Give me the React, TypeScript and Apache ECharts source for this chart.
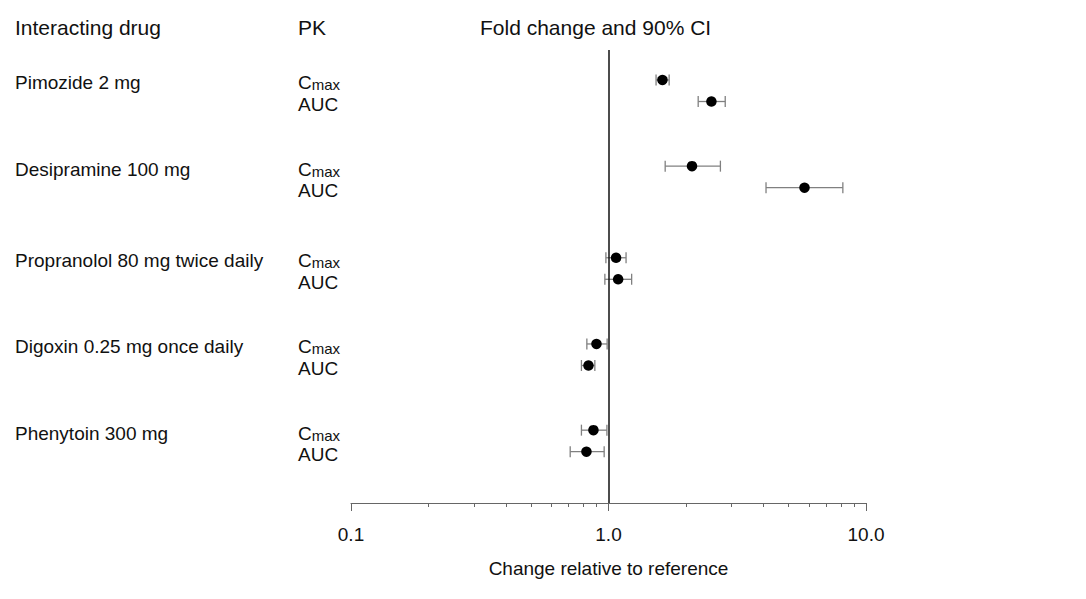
import React, { useEffect, useRef } from "react";
import * as echarts from "echarts";

const drugs = [
  "Pimozide 2 mg",
  "Desipramine 100 mg",
  "Propranolol 80 mg twice daily",
  "Digoxin 0.25 mg once daily",
  "Phenytoin 300 mg",
];
const groupRow = [0, 4, 8.25, 12.25, 16.25];
const pkNames = ["Cmax", "AUC"];

// fold change estimates [Cmax, AUC] per drug
const estimate = [
  [1.62, 2.51],
  [2.11, 5.77],
  [1.07, 1.09],
  [0.898, 0.836],
  [0.874, 0.821],
];
const ciLow = [
  [1.53, 2.23],
  [1.66, 4.09],
  [0.977, 0.968],
  [0.824, 0.785],
  [0.785, 0.71],
];
const ciHigh = [
  [1.72, 2.84],
  [2.72, 8.13],
  [1.17, 1.23],
  [0.988, 0.885],
  [0.986, 0.962],
];

const majorTicks = [0.1, 1, 10];
const minorTicks = [0.2, 0.3, 0.4, 0.5, 0.6, 0.7, 0.8, 0.9, 2, 3, 4, 5, 6, 7, 8, 9];

const FONT = "'Liberation Sans', Arial, Helvetica, sans-serif";

export default function App() {
  const ref = useRef<HTMLDivElement>(null);

  useEffect(() => {
    if (!ref.current) return;
    const chart = echarts.init(ref.current, undefined, { renderer: "svg" });

    const rows: number[] = [];
    const rowKind: number[] = [];
    const points: number[][] = [];
    const bars: number[][] = [];
    drugs.forEach((_, i) => {
      [0, 1].forEach((k) => {
        const r = groupRow[i] + k;
        rows.push(r);
        rowKind.push(k);
        points.push([estimate[i][k], r]);
        bars.push([ciLow[i][k], ciHigh[i][k], r]);
      });
    });

    const findIdx = (arr: number[], v: number) =>
      arr.findIndex((a) => Math.abs(a - v) < 1e-6);

    const yBase = {
      type: "value" as const,
      min: -1.39,
      max: 19.63,
      inverse: true,
      position: "left" as const,
      axisLine: { show: false },
      axisTick: { show: false },
      splitLine: { show: false },
    };

    const option: any = {
      animation: false,
      backgroundColor: "#ffffff",
      grid: { left: 351, right: 220, top: 50, bottom: 96, containLabel: false },
      xAxis: [
        {
          type: "log",
          logBase: 10,
          min: 0.1,
          max: 10,
          interval: 1,
          position: "bottom",
          axisLine: { show: true, onZero: false, lineStyle: { color: "#666", width: 1 } },
          axisTick: { show: true, length: 8, lineStyle: { color: "#666", width: 1 } },
          minorTick: { show: false },
          splitLine: { show: false },
          axisLabel: {
            show: true,
            margin: 22,
            fontSize: 19,
            fontFamily: FONT,
            color: "#111",
            formatter: (v: number) => {
              const m = majorTicks.find((t) => Math.abs(t - v) / t < 1e-6);
              return m !== undefined ? m.toFixed(1) : "";
            },
          },
          name: "Change relative to reference",
          nameLocation: "middle",
          nameGap: 56,
          nameTextStyle: { fontSize: 19, fontFamily: FONT, color: "#111" },
        },
        {
          type: "log",
          logBase: 10,
          min: 0.1,
          max: 10,
          position: "bottom",
          axisLine: { show: false, onZero: false },
          axisTick: {
            show: true,
            length: 4,
            customValues: minorTicks,
            lineStyle: { color: "#666", width: 1 },
          },
          axisLabel: { show: false },
          splitLine: { show: false },
        },
      ],
      yAxis: [
        {
          ...yBase,
          axisLabel: {
            show: true,
            align: "left",
            margin: 336,
            customValues: groupRow,
            color: "#111",
            padding: [6, 0, 0, 0],
            formatter: (v: number) => {
              const i = findIdx(groupRow, v);
              return i >= 0 ? "{d|" + drugs[i] + "}" : "";
            },
            rich: {
              d: { fontSize: 19, fontFamily: FONT, color: "#111" },
            },
          },
        },
        {
          ...yBase,
          axisLabel: {
            show: true,
            align: "left",
            margin: 53,
            customValues: rows,
            color: "#111",
            padding: [6, 0, 0, 0],
            formatter: (v: number) => {
              const i = findIdx(rows, v);
              if (i < 0) return "";
              return rowKind[i] === 0 ? "{c|C}{m|max}" : "{c|" + pkNames[1] + "}";
            },
            rich: {
              c: { fontSize: 19, fontFamily: FONT, color: "#111", verticalAlign: "bottom" },
              m: { fontSize: 15, fontFamily: FONT, color: "#111", verticalAlign: "bottom" },
            },
          },
        },
      ],
      graphic: [
        {
          type: "text",
          x: 15,
          y: 27,
          style: { text: "Interacting drug", font: `21px ${FONT}`, fill: "#111", verticalAlign: "middle" },
        },
        {
          type: "text",
          x: 298,
          y: 27,
          style: { text: "PK", font: `21px ${FONT}`, fill: "#111", verticalAlign: "middle" },
        },
        {
          type: "text",
          x: 480,
          y: 27,
          style: { text: "Fold change and 90% CI", font: `21px ${FONT}`, fill: "#111", verticalAlign: "middle" },
        },
      ],
      series: [
        {
          type: "custom",
          xAxisIndex: 0,
          yAxisIndex: 0,
          data: bars,
          encode: { x: [0, 1], y: 2 },
          silent: true,
          z: 2,
          renderItem: (params: any, api: any) => {
            const y = api.value(2);
            const p1 = api.coord([api.value(0), y]);
            const p2 = api.coord([api.value(1), y]);
            const h = 5.5;
            const style = { stroke: "#808080", lineWidth: 1.3 };
            return {
              type: "group",
              children: [
                { type: "line", shape: { x1: p1[0], y1: p1[1], x2: p2[0], y2: p2[1] }, style },
                { type: "line", shape: { x1: p1[0], y1: p1[1] - h, x2: p1[0], y2: p1[1] + h }, style },
                { type: "line", shape: { x1: p2[0], y1: p2[1] - h, x2: p2[0], y2: p2[1] + h }, style },
              ],
            };
          },
        },
        {
          type: "scatter",
          xAxisIndex: 0,
          yAxisIndex: 0,
          data: points,
          symbol: "circle",
          symbolSize: 10.5,
          itemStyle: { color: "#000", opacity: 1 },
          silent: true,
          z: 3,
          markLine: {
            silent: true,
            symbol: "none",
            label: { show: false },
            lineStyle: { color: "#111", width: 1.5, type: "solid" },
            data: [{ xAxis: 1 }],
          },
        },
      ],
    };

    chart.setOption(option);
    return () => chart.dispose();
  }, []);

  return (
    <div
      ref={ref}
      style={{ position: "absolute", left: 0, top: 0, width: 1086, height: 599, background: "#fff" }}
    />
  );
}
